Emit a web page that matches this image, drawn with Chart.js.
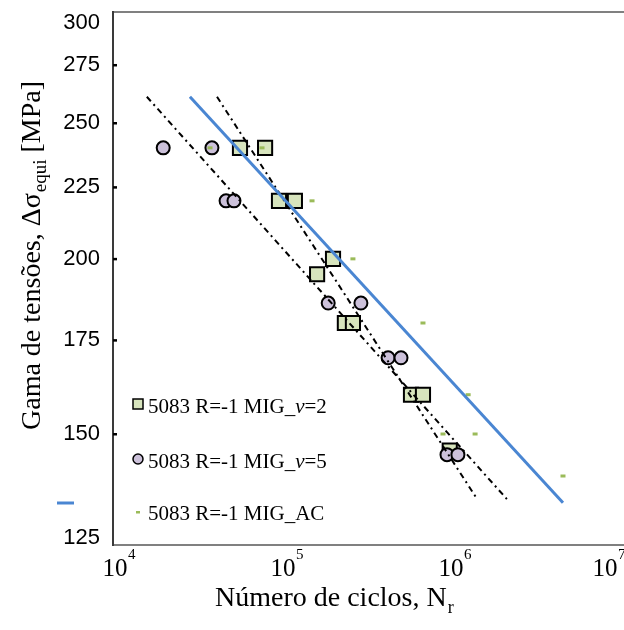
<!DOCTYPE html>
<html>
<head>
<meta charset="utf-8">
<script src="https://cdn.jsdelivr.net/npm/chart.js@4"></script>
<style>
  body { margin: 0; background: #fff; }
  #wrap { width: 624px; height: 630px; }
</style>
</head>
<body>
<div id="wrap"><canvas id="chart" width="624" height="630"></canvas></div>
<script>
// cycles (N) and stress range (MPa)
const v2N = [5.70e4, 8.04e4, 9.73e4, 1.21e5, 2.04e5, 1.64e5, 2.40e5, 2.68e5, 5.94e5, 7.00e5, 1.01e6];
const v2S = [240, 240, 220, 220, 200, 195, 180, 180, 160, 160, 146];

const v5N = [1.99e4, 3.88e4, 4.71e4, 5.25e4, 1.91e5, 2.99e5, 4.34e5, 5.18e5, 9.73e5, 1.13e6];
const v5S = [240, 240, 220, 220, 186, 186, 170, 170, 145, 145];

const acN = [3.78e4, 7.71e4, 1.53e5, 2.68e5, 7.00e5, 1.30e6, 9.21e5, 1.43e6, 4.77e6];
const acS = [240, 240, 220, 200, 180, 160, 150, 150, 140];

// fitted curves (end points)
const fitN = [2.87e4, 4.77e6];
const fitS = [261, 134];
const bandAN = [1.59e4, 2.21e6];
const bandAS = [261, 134.8];
const bandBN = [4.16e4, 1.47e6];
const bandBS = [261, 134.8];

const yTicks = [125, 150, 175, 200, 225, 250, 275, 300];
const xTicks = [1e4, 1e5, 1e6, 1e7];
const xExps = ['4', '5', '6', '7'];

const legendLabels = ['5083 R=-1 MIG_', '5083 R=-1 MIG_', '5083 R=-1 MIG_AC'];
const legendTails = [['v', '=2'], ['v', '=5'], null];

const pts = (xs, ys) => xs.map((x, i) => ({ x, y: ys[i] }));

const SERIF = '"Liberation Serif", "Times New Roman", serif';
const SANS = '"Liberation Sans", Arial, sans-serif';

const decor = {
  id: 'decor',
  afterDraw(chart) {
    const ctx = chart.ctx;
    const { left, top, bottom } = chart.chartArea;
    const xs = chart.scales.x, ys = chart.scales.y;
    ctx.save();

    // frame: top and bottom grey, left axis dark
    ctx.lineWidth = 2;
    ctx.strokeStyle = '#808080';
    ctx.beginPath();
    ctx.moveTo(left, top); ctx.lineTo(624, top);
    ctx.moveTo(left, bottom); ctx.lineTo(624, bottom);
    ctx.stroke();
    ctx.strokeStyle = '#3a3a3a';
    ctx.beginPath();
    ctx.moveTo(left, top - 1); ctx.lineTo(left, bottom + 1);
    ctx.stroke();

    // y ticks and labels
    ctx.fillStyle = '#000';
    ctx.font = '22px ' + SANS;
    ctx.textAlign = 'right';
    ctx.textBaseline = 'middle';
    yTicks.forEach(v => {
      const y = ys.getPixelForValue(v);
      if (v > 125 && v < 300) {
        ctx.fillRect(left, y - 1, 4, 2.5);
      }
      const ly = Math.min(Math.max(y, 23), 538);
      ctx.fillText(String(v), 100, ly);
    });

    // x tick labels 10^n
    ctx.textBaseline = 'alphabetic';
    xTicks.forEach((v, i) => {
      let x = xs.getPixelForValue(v) + 2;
      x = Math.min(x, 605);
      ctx.font = '25px ' + SERIF;
      ctx.textAlign = 'center';
      ctx.fillText('10', x, 576);
      ctx.font = '15px ' + SERIF;
      ctx.textAlign = 'left';
      ctx.fillText(xExps[i], x + 13, 559);
    });

    // x title
    ctx.font = '28px ' + SERIF;
    ctx.textAlign = 'left';
    const t1 = 'Número de ciclos, N';
    ctx.fillText(t1, 215, 606);
    const w1 = ctx.measureText(t1).width;
    ctx.font = '18px ' + SERIF;
    ctx.fillText('r', 215 + w1 + 1, 613);

    // y title (rotated)
    ctx.save();
    ctx.translate(40, 430);
    ctx.rotate(-Math.PI / 2);
    ctx.font = '28px ' + SERIF;
    const a = 'Gama de tensões, Δσ';
    ctx.fillText(a, 0, 0);
    let px = ctx.measureText(a).width;
    ctx.font = '19px ' + SERIF;
    ctx.fillText('equi', px + 1, 6);
    px += ctx.measureText('equi').width + 1;
    ctx.font = '28px ' + SERIF;
    ctx.fillText(' [MPa]', px, 0);
    ctx.restore();

    // legend
    const lx = 148;
    const base = [413, 468, 520];
    const mid = [404, 459, 512];
    ctx.lineWidth = 1.5;
    ctx.strokeStyle = '#000';
    ctx.fillStyle = '#d7e4bd';
    ctx.fillRect(133, mid[0] - 5, 10, 10);
    ctx.strokeRect(133, mid[0] - 5, 10, 10);
    ctx.fillStyle = '#ccc1da';
    ctx.beginPath();
    ctx.arc(138, mid[1], 5, 0, Math.PI * 2);
    ctx.fill(); ctx.stroke();
    ctx.fillStyle = '#9bbb59';
    ctx.fillRect(136, mid[2] - 1, 4, 2.5);
    ctx.strokeStyle = '#4a86d2';
    ctx.lineWidth = 3;
    ctx.beginPath();
    ctx.moveTo(57, 503); ctx.lineTo(74, 503);
    ctx.stroke();

    ctx.fillStyle = '#000';
    legendLabels.forEach((lab, i) => {
      ctx.font = '21px ' + SERIF;
      ctx.fillText(lab, lx, base[i]);
      if (legendTails[i]) {
        let w = ctx.measureText(lab).width;
        ctx.font = 'italic 21px ' + SERIF;
        ctx.fillText(legendTails[i][0], lx + w, base[i]);
        w += ctx.measureText(legendTails[i][0]).width;
        ctx.font = '21px ' + SERIF;
        ctx.fillText(legendTails[i][1], lx + w, base[i]);
      }
    });

    ctx.restore();
  }
};

new Chart(document.getElementById('chart').getContext('2d'), {
  type: 'scatter',
  data: {
    datasets: [
      {
        label: 'fit',
        data: pts(fitN, fitS),
        showLine: true,
        borderColor: '#4a86d2',
        borderWidth: 3,
        pointRadius: 0,
        order: 0
      },
      {
        label: 'bandA',
        data: pts(bandAN, bandAS),
        showLine: true,
        borderColor: '#000',
        borderWidth: 2,
        borderDash: [6, 4, 2, 4],
        pointRadius: 0,
        order: 0
      },
      {
        label: 'bandB',
        data: pts(bandBN, bandBS),
        showLine: true,
        borderColor: '#000',
        borderWidth: 2,
        borderDash: [6, 4, 2, 4],
        pointRadius: 0,
        order: 0
      },
      {
        label: '5083 R=-1 MIG_AC',
        data: pts(acN, acS),
        pointStyle: 'line',
        pointRadius: 2.5,
        borderColor: '#9bbb59',
        borderWidth: 3,
        order: 1
      },
      {
        label: '5083 R=-1 MIG_v=5',
        data: pts(v5N, v5S),
        pointStyle: 'circle',
        pointRadius: 6.5,
        backgroundColor: '#ccc1da',
        borderColor: '#000',
        borderWidth: 2,
        order: 2
      },
      {
        label: '5083 R=-1 MIG_v=2',
        data: pts(v2N, v2S),
        pointStyle: 'rect',
        pointRadius: 10,
        backgroundColor: '#d7e4bd',
        borderColor: '#000',
        borderWidth: 2,
        order: 3
      }
    ]
  },
  options: {
    responsive: false,
    animation: false,
    layout: { autoPadding: false, padding: { left: 113, top: 12, right: 7, bottom: 85 } },
    plugins: { legend: { display: false }, tooltip: { enabled: false } },
    scales: {
      x: { type: 'logarithmic', min: 1e4, max: 1e7, display: false },
      y: { type: 'logarithmic', min: 125, max: 300, display: false }
    }
  },
  plugins: [decor]
});
</script>
</body>
</html>
